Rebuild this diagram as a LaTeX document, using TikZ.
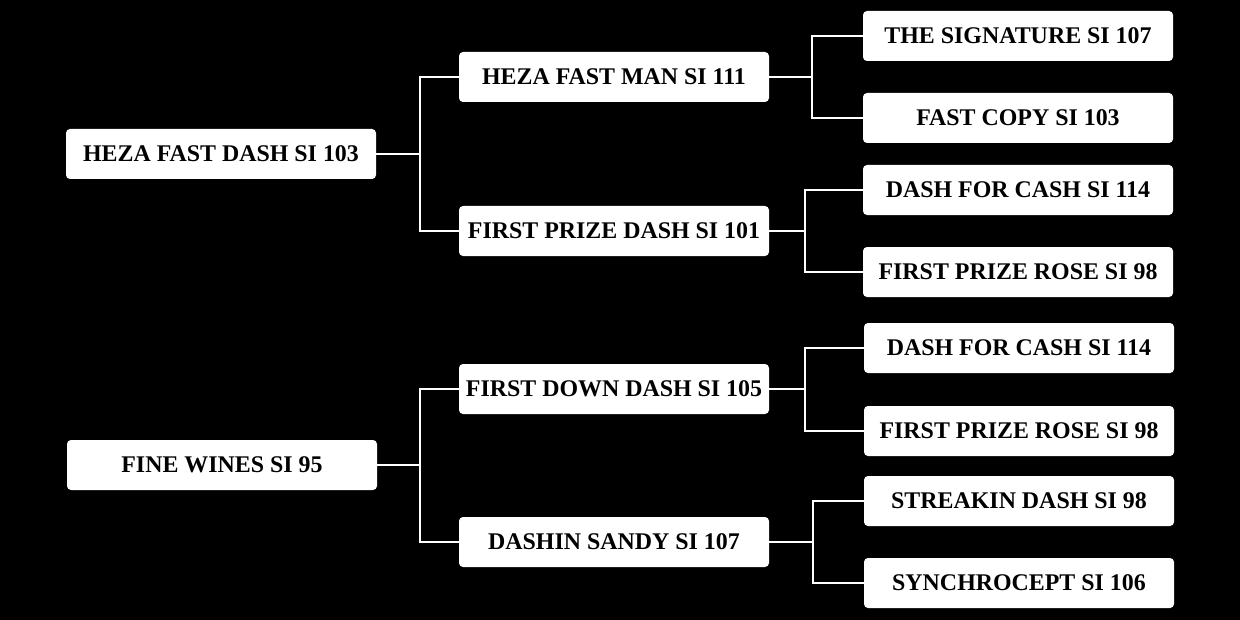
\documentclass[tikz,border=0pt]{standalone}
\usepackage{fontspec}
\setmainfont{Liberation Serif}
\usepackage{tikz}
\usetikzlibrary{positioning}
\definecolor{pedink}{HTML}{000000}
\definecolor{pedpaper}{HTML}{FFFFFF}
\tikzset{
  horse/.style={rounded corners=2pt, fill=pedpaper, draw=none, align=center,
    minimum width=155pt, minimum height=25pt, inner sep=1pt, text=pedink,
    font=\fontsize{11.95}{14}\selectfont\bfseries},
  tree/.style={draw=pedpaper, line width=1pt},
}
\begin{document}
\begin{tikzpicture}[x=0.5pt, y=-0.5pt]
      \fill[pedink] (0,0) rectangle (1240,620);
      \useasboundingbox (0,0) rectangle (1240,620);
      % roots
      \node[horse] (hfd) at (221,154) {HEZA FAST DASH SI 103};
      \node[horse] (fw) at (222,465) {FINE WINES SI 95};
      % sires and dams
      \node[horse] (hfm) at (614,77) {HEZA FAST MAN SI 111};
      \node[horse] (fpd) at (614,231) {FIRST PRIZE DASH SI 101};
      \node[horse] (fdd) at (614,389) {FIRST DOWN DASH SI 105};
      \node[horse] (ds) at (614,542) {DASHIN SANDY SI 107};
      % grandparents
      \node[horse] (ts) at (1018,36) {THE SIGNATURE SI 107};
      \node[horse] (fc) at (1018,118) {FAST COPY SI 103};
      \node[horse] (dfc1) at (1018,190) {DASH FOR CASH SI 114};
      \node[horse] (fpr1) at (1018,272) {FIRST PRIZE ROSE SI 98};
      \node[horse] (dfc2) at (1019,348) {DASH FOR CASH SI 114};
      \node[horse] (fpr2) at (1019,431) {FIRST PRIZE ROSE SI 98};
      \node[horse] (sd) at (1019,501) {STREAKIN DASH SI 98};
      \node[horse] (sy) at (1019,583) {SYNCHROCEPT SI 106};
      % junctions
      \coordinate (j1) at (420,154);
      \coordinate (j2) at (420,465);
      \coordinate (j3) at (812,77);
      \coordinate (j4) at (805,231);
      \coordinate (j5) at (805,389);
      \coordinate (j6) at (813,542);
      \draw[tree] (hfd.east) -- (j1) (hfm.west) -| (j1) |- (fpd.west);
      \draw[tree] (fw.east) -- (j2) (fdd.west) -| (j2) |- (ds.west);
      \draw[tree] (hfm.east) -- (j3) (ts.west) -| (j3) |- (fc.west);
      \draw[tree] (fpd.east) -- (j4) (dfc1.west) -| (j4) |- (fpr1.west);
      \draw[tree] (fdd.east) -- (j5) (dfc2.west) -| (j5) |- (fpr2.west);
      \draw[tree] (ds.east) -- (j6) (sd.west) -| (j6) |- (sy.west);
    \end{tikzpicture}
\end{document}
